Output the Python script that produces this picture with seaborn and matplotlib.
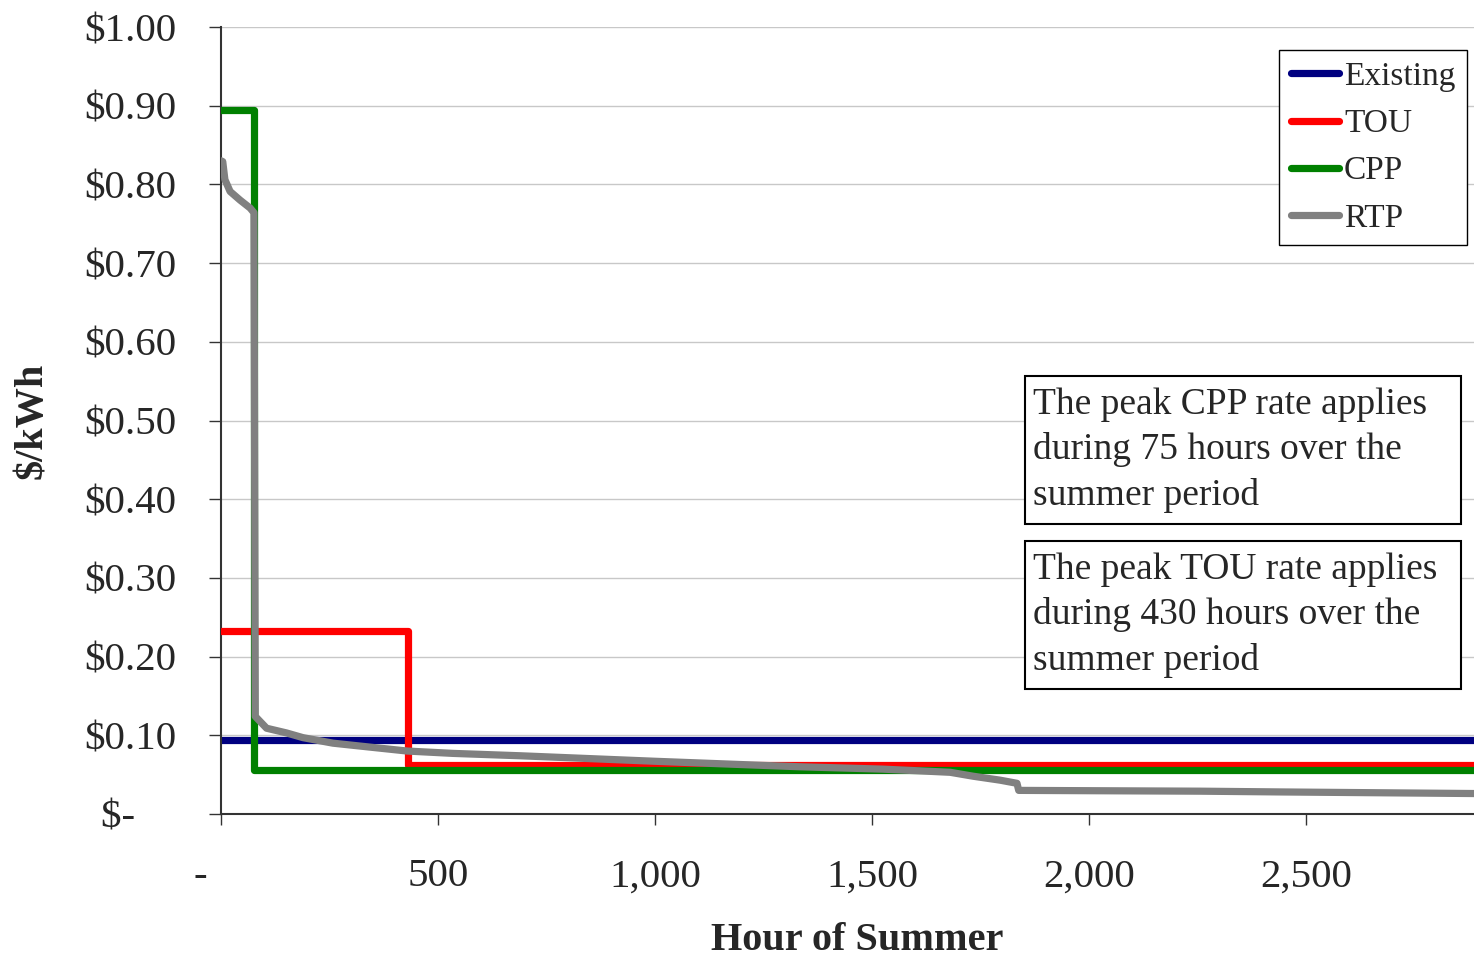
import matplotlib
matplotlib.use("Agg")
import matplotlib.pyplot as plt
from matplotlib.patches import Rectangle
from matplotlib.lines import Line2D
import pandas as pd
import seaborn as sns

# Summer tariff price-duration data ($/kWh vs. hours of summer, sorted high to low)
summer_hours = 2887

existing_hours = [0, summer_hours]
existing_price = [0.094, 0.094]

tou_hours = [0, 430, summer_hours]
tou_price = [0.233, 0.062, 0.062]

cpp_hours = [0, 75, summer_hours]
cpp_price = [0.895, 0.056, 0.056]

rtp_hours = [0, 4, 9, 21, 44, 67, 76, 79, 105, 151, 189, 258, 343, 429, 535,
             689, 1000, 1334, 1525, 1680, 1733, 1795, 1834, 1838, 2256, 2447,
             summer_hours]
rtp_price = [0.830, 0.829, 0.806, 0.791, 0.780, 0.770, 0.764, 0.124, 0.109,
             0.103, 0.097, 0.090, 0.085, 0.080, 0.077, 0.074, 0.067, 0.060,
             0.057, 0.053, 0.048, 0.043, 0.039, 0.030, 0.029, 0.028, 0.026]

series_names = ["Existing", "TOU", "CPP", "RTP"]
series_colors = ["#000080", "#FF0000", "#008000", "#808080"]

y_ticks = [0.0, 0.1, 0.2, 0.3, 0.4, 0.5, 0.6, 0.7, 0.8, 0.9, 1.0]
y_tick_labels = ["$-    ", "$0.10", "$0.20", "$0.30", "$0.40", "$0.50",
                 "$0.60", "$0.70", "$0.80", "$0.90", "$1.00"]
x_ticks = [0, 500, 1000, 1500, 2000, 2500]
x_tick_labels = ["-    ", "500", "1,000", "1,500", "2,000", "2,500"]

note_cpp = "The peak CPP rate applies\nduring 75 hours over the\nsummer period"
note_tou = "The peak TOU rate applies\nduring 430 hours over the\nsummer period"

sns.set_theme(style="white")
plt.rcParams["font.family"] = ["Liberation Serif", "DejaVu Serif"]

fig = plt.figure(figsize=(14.74, 9.60), dpi=100)
ax = fig.add_axes([221 / 1474, 146 / 960, 1253 / 1474, 787 / 960])

palette = dict(zip(series_names, series_colors))
lw = 5.2

step_frames = {
    "Existing": (existing_hours, existing_price),
    "TOU": (tou_hours, tou_price),
    "CPP": (cpp_hours, cpp_price),
}
for name in ["TOU", "CPP", "Existing"]:
    h, p = step_frames[name]
    df = pd.DataFrame({"hours": h, "price": p})
    sns.lineplot(data=df, x="hours", y="price", ax=ax, color=palette[name],
                 linewidth=lw, drawstyle="steps-post", estimator=None,
                 sort=False, solid_joinstyle="round",
                 zorder=3 if name != "Existing" else 2.5)

rtp_df = pd.DataFrame({"hours": rtp_hours, "price": rtp_price})
sns.lineplot(data=rtp_df, x="hours", y="price", ax=ax, color=palette["RTP"],
             linewidth=lw, estimator=None, sort=False, solid_joinstyle="round",
             zorder=4)

ax.set_xlim(0, summer_hours)
ax.set_ylim(0, 1.0)
ax.set_yticks(y_ticks)
ax.set_yticklabels(y_tick_labels)
ax.set_xticks(x_ticks)
ax.set_xticklabels(x_tick_labels)

ax.yaxis.grid(True, color="#c8c8c8", lw=1.0)
ax.xaxis.grid(False)
for side in ["top", "right"]:
    ax.spines[side].set_visible(False)
for side in ["left", "bottom"]:
    ax.spines[side].set_color("#333333")
    ax.spines[side].set_linewidth(1.5)

ax.tick_params(axis="y", direction="out", length=9, width=1.0, color="#333333",
               pad=23, labelsize=29.5, left=True)
ax.tick_params(axis="x", direction="out", length=8, width=1.0, color="#333333",
               pad=24, labelsize=29.5, bottom=True)

ax.set_xlabel("Hour of Summer", fontsize=29, fontweight="bold", labelpad=19)
ax.xaxis.label.set_x(0.508)
ax.set_ylabel("$/kWh", fontsize=29, fontweight="bold", labelpad=24)

handles = [Line2D([0], [0], color=c, lw=lw, solid_capstyle="round")
           for c in series_colors]
leg = ax.legend(handles, series_names, loc="upper left",
                bbox_to_anchor=(0.8444, 0.9708), borderaxespad=0,
                fontsize=24, handlelength=1.45, handletextpad=0.15,
                borderpad=0.35, labelspacing=0.5, frameon=True,
                fancybox=False, framealpha=1, edgecolor="black")
leg.get_frame().set_linewidth(1.0)

# Annotation boxes
for (y0, y1, text) in [(0.3685, 0.5565, note_cpp), (0.1588, 0.3469, note_tou)]:
    ax.add_patch(Rectangle((0.6417, y0), 0.9896 - 0.6417, y1 - y0,
                           transform=ax.transAxes, fill=True, facecolor="white",
                           edgecolor="black", lw=1.5, zorder=5))
    ax.text(0.648, (y0 + y1) / 2, text, transform=ax.transAxes, fontsize=27,
            ha="left", va="center", linespacing=1.38, zorder=6)

fig.savefig("out.png", dpi=100)
